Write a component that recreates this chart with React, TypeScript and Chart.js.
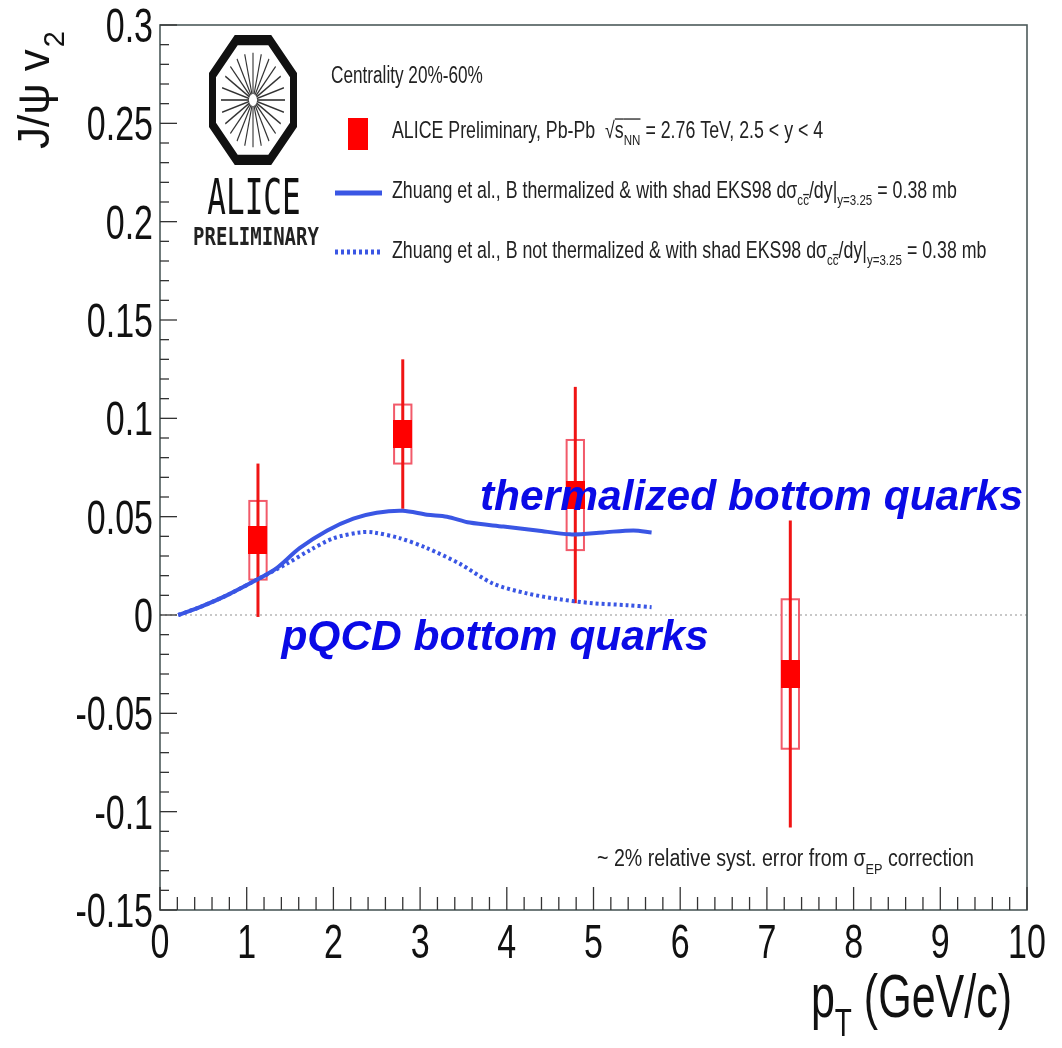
import { useEffect, useRef } from 'react';
import { Chart, registerables } from 'chart.js';

Chart.register(...registerables);

// ALICE J/psi v2 measurement (centre of pT bin, value, stat. and syst. errors)
const ptData = [1.13, 2.8, 4.79, 7.27];
const v2Data = [0.038, 0.092, 0.061, -0.03];
const statErr = [0.039, 0.038, 0.055, 0.078];
const systErr = [0.02, 0.015, 0.028, 0.038];
const systHalfWidth = 0.1;

// Transport model, B thermalized
const thermPt = [0.21, 0.46, 0.77, 1.12, 1.35, 1.61, 1.93, 2.23, 2.5, 2.8, 3.08, 3.31, 3.57, 3.96, 4.35, 4.73, 5.11, 5.46, 5.67];
const thermV2 = [0.0, 0.004, 0.01, 0.018, 0.024, 0.034, 0.043, 0.049, 0.052, 0.053, 0.051, 0.05, 0.047, 0.045, 0.043, 0.041, 0.042, 0.043, 0.042];

// Transport model, B not thermalized (pQCD)
const pqcdPt = [0.21, 0.46, 0.77, 1.12, 1.46, 1.73, 2.0, 2.31, 2.46, 2.77, 3.08, 3.46, 3.84, 4.23, 4.61, 4.99, 5.38, 5.67];
const pqcdV2 = [0.0, 0.004, 0.01, 0.018, 0.026, 0.033, 0.039, 0.042, 0.042, 0.039, 0.034, 0.026, 0.016, 0.011, 0.008, 0.006, 0.005, 0.004];

const xTickValues = [0, 1, 2, 3, 4, 5, 6, 7, 8, 9, 10];
const xTickLabels = ['0', '1', '2', '3', '4', '5', '6', '7', '8', '9', '10'];
const yTickValues = [-0.15, -0.1, -0.05, 0, 0.05, 0.1, 0.15, 0.2, 0.25, 0.3];
const yTickLabels = ['-0.15', '-0.1', '-0.05', '0', '0.05', '0.1', '0.15', '0.2', '0.25', '0.3'];

const annotationTexts = ['thermalized bottom quarks', 'pQCD bottom quarks'];
const annotationX = [3.69, 1.4];
const annotationY = [0.0534, -0.0178];

const FONT = '"Liberation Sans", Arial, Helvetica, sans-serif';
const STRETCH = 1.4;
const BLUE = 'rgb(58, 86, 228)';
const RED = '#ff0000';

type Seg = { t: string; sub?: boolean; over?: number };

function drawRich(
  ctx: CanvasRenderingContext2D,
  segs: Seg[],
  x: number,
  y: number,
  size: number,
  stretch: number,
  color: string,
  align: 'left' | 'right' = 'left'
) {
  ctx.save();
  ctx.translate(x, y);
  ctx.scale(1, stretch);
  ctx.textAlign = 'left';
  ctx.textBaseline = 'alphabetic';
  let total = 0;
  for (const s of segs) {
    ctx.font = `${s.sub ? size * 0.65 : size}px ${FONT}`;
    total += ctx.measureText(s.t).width;
  }
  let cx = align === 'right' ? -total : 0;
  ctx.fillStyle = color;
  ctx.strokeStyle = color;
  ctx.lineWidth = 1;
  for (const s of segs) {
    const fs = s.sub ? size * 0.65 : size;
    ctx.font = `${fs}px ${FONT}`;
    const dy = s.sub ? size * 0.32 : 0;
    ctx.fillText(s.t, cx, dy);
    const w = ctx.measureText(s.t).width;
    if (s.over !== undefined) {
      ctx.beginPath();
      ctx.moveTo(cx, s.over);
      ctx.lineTo(cx + w, s.over);
      ctx.stroke();
    }
    cx += w;
  }
  ctx.restore();
}

function drawLogo(ctx: CanvasRenderingContext2D) {
  ctx.save();
  ctx.translate(253, 100);
  ctx.save();
  ctx.scale(1, 1.48);
  const R = 40.5 / Math.cos(Math.PI / 8);
  ctx.beginPath();
  for (let k = 0; k < 8; k++) {
    const a = Math.PI / 8 + (k * Math.PI) / 4;
    const px = R * Math.cos(a);
    const py = R * Math.sin(a);
    if (k === 0) ctx.moveTo(px, py);
    else ctx.lineTo(px, py);
  }
  ctx.closePath();
  ctx.lineWidth = 7;
  ctx.strokeStyle = '#111';
  ctx.stroke();
  ctx.lineWidth = 1.1;
  ctx.strokeStyle = '#333';
  for (let k = 0; k < 24; k++) {
    const a = (k * Math.PI) / 12;
    ctx.beginPath();
    ctx.moveTo(4 * Math.cos(a), 4 * Math.sin(a));
    ctx.lineTo(32 * Math.cos(a), 32 * Math.sin(a));
    ctx.stroke();
  }
  ctx.restore();
  ctx.restore();

  ctx.save();
  ctx.translate(254, 214);
  ctx.scale(1, 1.6);
  ctx.font = `31px "DejaVu Sans Mono", monospace`;
  ctx.textAlign = 'center';
  ctx.fillStyle = '#111';
  ctx.fillText('ALICE', 0, 0);
  ctx.restore();

  ctx.save();
  ctx.translate(256, 245);
  ctx.scale(1, 1.3);
  ctx.font = `bold 19px "DejaVu Sans Mono", monospace`;
  ctx.textAlign = 'center';
  ctx.fillStyle = '#222';
  ctx.fillText('PRELIMINARY', 0, 0);
  ctx.restore();
}

const decorations = {
  id: 'rootStyle',
  beforeDatasetsDraw(chart: Chart) {
    const ctx = chart.ctx;
    const xs = chart.scales.x;
    const ys = chart.scales.y;
    const area = chart.chartArea;
    ctx.save();
    // dotted zero reference line
    const y0 = ys.getPixelForValue(0);
    ctx.strokeStyle = '#c8c8c8';
    ctx.lineWidth = 2;
    ctx.setLineDash([2, 3]);
    ctx.beginPath();
    ctx.moveTo(area.left, y0);
    ctx.lineTo(area.right, y0);
    ctx.stroke();
    ctx.setLineDash([]);

    ptData.forEach((pt, i) => {
      const px = xs.getPixelForValue(pt);
      const x0 = xs.getPixelForValue(pt - systHalfWidth);
      const x1 = xs.getPixelForValue(pt + systHalfWidth);
      const yt = ys.getPixelForValue(v2Data[i] + systErr[i]);
      const yb = ys.getPixelForValue(v2Data[i] - systErr[i]);
      ctx.strokeStyle = '#f25a6a';
      ctx.lineWidth = 2;
      ctx.strokeRect(x0, yt, x1 - x0, yb - yt);
      ctx.strokeStyle = '#f01414';
      ctx.lineWidth = 3;
      ctx.beginPath();
      ctx.moveTo(px, ys.getPixelForValue(v2Data[i] + statErr[i]));
      ctx.lineTo(px, ys.getPixelForValue(v2Data[i] - statErr[i]));
      ctx.stroke();
    });
    ctx.restore();
  },
  afterDraw(chart: Chart) {
    const ctx = chart.ctx;
    const xs = chart.scales.x;
    const ys = chart.scales.y;
    const area = chart.chartArea;
    ctx.save();

    // frame
    ctx.strokeStyle = '#4d5a5a';
    ctx.lineWidth = 1.6;
    ctx.strokeRect(area.left, area.top, area.right - area.left, area.bottom - area.top);

    // inward ticks
    ctx.lineWidth = 1.3;
    ctx.strokeStyle = '#333';
    for (let i = 0; i <= 50; i++) {
      const px = xs.getPixelForValue(i / 5);
      const len = i % 5 === 0 ? 23 : 13;
      ctx.beginPath();
      ctx.moveTo(px, area.bottom);
      ctx.lineTo(px, area.bottom - len);
      ctx.stroke();
    }
    for (let i = -15; i <= 30; i++) {
      const py = ys.getPixelForValue(i / 100);
      const len = i % 5 === 0 ? 17 : 9;
      ctx.beginPath();
      ctx.moveTo(area.left, py);
      ctx.lineTo(area.left + len, py);
      ctx.stroke();
    }

    // tick labels
    xTickValues.forEach((v, i) => {
      const px = xs.getPixelForValue(v);
      ctx.save();
      ctx.translate(px, area.bottom + 48);
      ctx.scale(1, STRETCH);
      ctx.font = `34px ${FONT}`;
      ctx.textAlign = 'center';
      ctx.fillStyle = '#111';
      ctx.fillText(xTickLabels[i], 0, 0);
      ctx.restore();
    });
    yTickValues.forEach((v, i) => {
      const py = ys.getPixelForValue(v);
      ctx.save();
      ctx.translate(area.left - 7, py + 17);
      ctx.scale(1, STRETCH);
      ctx.font = `34px ${FONT}`;
      ctx.textAlign = 'right';
      ctx.fillStyle = '#111';
      ctx.fillText(yTickLabels[i], 0, 0);
      ctx.restore();
    });

    // axis titles
    drawRich(ctx, [{ t: 'p' }, { t: 'T', sub: true }, { t: ' (GeV/c)' }], 1012, 1017, 43, STRETCH, '#111', 'right');

    ctx.save();
    ctx.translate(49, 149);
    ctx.rotate(-Math.PI / 2);
    ctx.fillStyle = '#111';
    ctx.font = `44px ${FONT}`;
    ctx.textBaseline = 'alphabetic';
    ctx.fillText('J/\u03c8 v', 0, 0);
    const w = ctx.measureText('J/\u03c8 v').width;
    ctx.font = `29px ${FONT}`;
    ctx.fillText('2', w + 2, 15);
    ctx.restore();

    // logo
    drawLogo(ctx);

    // legend
    const LS = 17.8;
    const LST = 1.3;
    drawRich(ctx, [{ t: 'Centrality 20%-60%' }], 331, 83, 17.2, STRETCH, '#222');
    ctx.fillStyle = RED;
    ctx.fillRect(348, 118, 20, 32);
    drawRich(
      ctx,
      [
        { t: 'ALICE Preliminary, Pb-Pb  ' },
        { t: '\u221a' },
        { t: 's', over: -LS * 0.82 },
        { t: 'NN', sub: true, over: -LS * 0.82 },
        { t: ' = 2.76 TeV, 2.5 < y < 4' },
      ],
      392,
      138,
      LS,
      LST,
      '#222'
    );
    ctx.strokeStyle = BLUE;
    ctx.lineWidth = 5;
    ctx.beginPath();
    ctx.moveTo(335, 193);
    ctx.lineTo(382, 193);
    ctx.stroke();
    const modelSegs = (label: string): Seg[] => [
      { t: `Zhuang et al., B ${label} & with shad EKS98 d\u03c3` },
      { t: 'c', sub: true },
      { t: 'c', sub: true, over: LS * 0.32 - LS * 0.65 * 0.72 },
      { t: '/dy' },
      { t: '|' },
      { t: 'y=3.25', sub: true },
      { t: ' = 0.38 mb' },
    ];
    drawRich(ctx, modelSegs('thermalized'), 392, 198, LS, LST, '#222');
    ctx.setLineDash([3, 3]);
    ctx.beginPath();
    ctx.moveTo(335, 252);
    ctx.lineTo(382, 252);
    ctx.stroke();
    ctx.setLineDash([]);
    drawRich(ctx, modelSegs('not thermalized'), 392, 258, LS, LST, '#222');

    // systematic note
    drawRich(
      ctx,
      [{ t: '~ 2% relative syst. error from \u03c3' }, { t: 'EP', sub: true }, { t: ' correction' }],
      597,
      866,
      19.6,
      1.22,
      '#222'
    );

    // model annotations
    ctx.fillStyle = '#0a0ae6';
    ctx.font = `italic bold 42.5px ${FONT}`;
    ctx.textAlign = 'left';
    ctx.textBaseline = 'alphabetic';
    annotationTexts.forEach((t, i) => {
      ctx.fillText(t, xs.getPixelForValue(annotationX[i]), ys.getPixelForValue(annotationY[i]));
    });

    ctx.restore();
  },
};

export default function App() {
  const canvasRef = useRef<HTMLCanvasElement | null>(null);

  useEffect(() => {
    const canvas = canvasRef.current;
    if (!canvas) return;

    const marker = document.createElement('canvas');
    marker.width = 19;
    marker.height = 28;
    const mctx = marker.getContext('2d');
    if (mctx) {
      mctx.fillStyle = RED;
      mctx.fillRect(0, 0, 19, 28);
    }

    const chart = new Chart(canvas, {
      type: 'scatter',
      data: {
        datasets: [
          {
            label: 'B thermalized',
            data: thermPt.map((x, i) => ({ x, y: thermV2[i] })),
            showLine: true,
            borderColor: BLUE,
            borderWidth: 4,
            pointRadius: 0,
            tension: 0.3,
            order: 1,
          },
          {
            label: 'B not thermalized',
            data: pqcdPt.map((x, i) => ({ x, y: pqcdV2[i] })),
            showLine: true,
            borderColor: BLUE,
            borderWidth: 4,
            borderDash: [3, 3],
            pointRadius: 0,
            tension: 0.3,
            order: 2,
          },
          {
            label: 'ALICE Preliminary',
            data: ptData.map((x, i) => ({ x, y: v2Data[i] })),
            pointStyle: marker,
            pointRadius: 10,
            order: 3,
          },
        ],
      },
      options: {
        animation: false,
        responsive: false,
        devicePixelRatio: 1,
        layout: { padding: { left: 160, right: 35, top: 25, bottom: 138 } },
        plugins: { legend: { display: false }, tooltip: { enabled: false } },
        scales: {
          x: { type: 'linear', min: 0, max: 10, display: false },
          y: { type: 'linear', min: -0.15, max: 0.3, display: false },
        },
      },
      plugins: [decorations],
    });

    return () => chart.destroy();
  }, []);

  return (
    <div style={{ position: 'absolute', left: 0, top: 0, width: 1062, height: 1048, background: '#fff' }}>
      <canvas ref={canvasRef} width={1062} height={1048} />
    </div>
  );
}
